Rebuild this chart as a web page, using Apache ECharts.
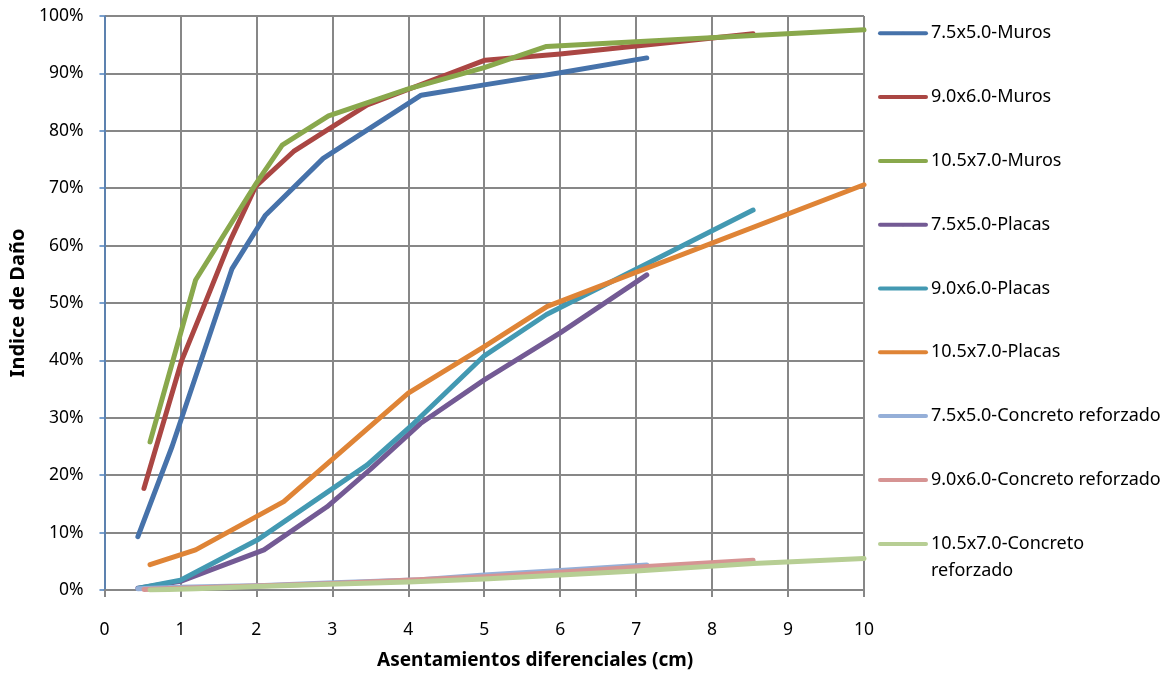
<!DOCTYPE html>
<html>
<head>
<meta charset="utf-8">
<script src="https://cdn.jsdelivr.net/npm/echarts@6/dist/echarts.min.js"></script>
<style>
  html, body { margin: 0; padding: 0; background: #fff; }
  #chart { width: 1161px; height: 679px; }
</style>
</head>
<body>
<div id="chart"></div>
<script>
// ---- Data (x = asentamiento en cm, y = índice de daño en %) ----
const seriesNames = [
  '7.5x5.0-Muros', '9.0x6.0-Muros', '10.5x7.0-Muros',
  '7.5x5.0-Placas', '9.0x6.0-Placas', '10.5x7.0-Placas',
  '7.5x5.0-Concreto reforzado', '9.0x6.0-Concreto reforzado', '10.5x7.0-Concreto reforzado'
];
const xTicks = [0, 1, 2, 3, 4, 5, 6, 7, 8, 9, 10];
const yTicks = [0, 10, 20, 30, 40, 50, 60, 70, 80, 90, 100];
const xTitle = 'Asentamientos diferenciales (cm)';
const yTitle = 'Indice de Daño';

const murosA_x = [0.44, 0.89, 1.68, 2.12, 2.88, 4.17, 5.0, 6.0, 7.14];
const murosA_y = [9.3, 25.0, 56.0, 65.3, 75.2, 86.2, 88.0, 90.1, 92.7];
const murosB_x = [0.52, 1.02, 1.31, 1.66, 1.99, 2.49, 2.93, 3.46, 5.01, 6.0, 8.54];
const murosB_y = [17.7, 40.1, 49.5, 61.0, 70.3, 76.4, 80.1, 84.5, 92.3, 93.4, 96.9];
const murosC_x = [0.6, 1.2, 2.0, 2.34, 2.95, 4.0, 5.0, 5.82, 8.54, 10.0];
const murosC_y = [25.8, 54.0, 70.9, 77.5, 82.6, 87.3, 91.0, 94.7, 96.6, 97.6];

const placasA_x = [0.44, 1.0, 2.1, 2.93, 3.5, 4.16, 5.0, 6.0, 7.14];
const placasA_y = [0.3, 1.5, 7.0, 14.5, 21.0, 29.0, 36.6, 44.8, 54.9];
const placasB_x = [0.45, 1.0, 2.01, 3.46, 4.07, 5.0, 5.82, 8.54];
const placasB_y = [0.3, 1.7, 8.7, 21.8, 29.0, 40.8, 48.0, 66.2];
const placasC_x = [0.6, 1.2, 2.36, 4.0, 5.0, 5.83, 10.0];
const placasC_y = [4.4, 7.0, 15.4, 34.3, 42.4, 49.4, 70.6];

const concA_x = [0.44, 1.0, 2.1, 2.93, 4.16, 5.0, 6.0, 7.14];
const concA_y = [0.2, 0.5, 0.8, 1.2, 1.8, 2.6, 3.4, 4.35];
const concB_x = [0.52, 1.02, 1.99, 2.93, 3.46, 5.01, 6.0, 7.14, 8.54];
const concB_y = [0.1, 0.3, 0.7, 1.1, 1.4, 2.3, 3.1, 4.1, 5.2];
const concC_x = [0.6, 1.2, 2.0, 2.95, 4.0, 5.0, 5.82, 7.0, 8.54, 10.0];
const concC_y = [0.0, 0.2, 0.6, 1.0, 1.4, 1.9, 2.5, 3.3, 4.6, 5.5];

const colors = ['#4672AA', '#AA4643', '#89A84C', '#735A94', '#4399B2', '#DF8436', '#95AFD8', '#D69493', '#B7CE94'];

const allX = [murosA_x, murosB_x, murosC_x, placasA_x, placasB_x, placasC_x, concA_x, concB_x, concC_x];
const allY = [murosA_y, murosB_y, murosC_y, placasA_y, placasB_y, placasC_y, concA_y, concB_y, concC_y];

const FONT = "'Noto Sans', sans-serif";

const series = seriesNames.map((name, i) => ({
  name: name,
  type: 'line',
  data: allX[i].map((x, j) => [x, allY[i][j]]),
  symbol: 'none',
  showSymbol: false,
  color: colors[i],
  lineStyle: { width: 5, color: colors[i], cap: 'round', join: 'round' },
  animation: false
}));

const chart = echarts.init(document.getElementById('chart'), null, { renderer: 'canvas' });
chart.setOption({
  animation: false,
  backgroundColor: '#ffffff',
  title: {
    text: xTitle, left: 377, top: 651, padding: 0,
    textStyle: { fontFamily: FONT, fontSize: 19, fontWeight: 'bold', color: '#000' }
  },
  grid: { left: 104, top: 16, width: 760, height: 574, containLabel: false },
  xAxis: {
    type: 'value', min: xTicks[0], max: xTicks[xTicks.length - 1], interval: 1,
    axisLine: { show: true, lineStyle: { color: '#878787', width: 2 } },
    axisTick: { show: true, length: 7, lineStyle: { color: '#878787', width: 2 } },
    axisLabel: { fontFamily: FONT, fontSize: 17.5, color: '#000', margin: 31 },
    splitLine: { show: true, lineStyle: { color: '#878787', width: 2 } }
  },
  yAxis: {
    type: 'value', min: yTicks[0], max: yTicks[yTicks.length - 1], interval: 10,
    name: yTitle, nameLocation: 'middle', nameGap: 75, nameRotate: 90,
    nameTextStyle: { fontFamily: FONT, fontSize: 20, fontWeight: 'bold', color: '#000' },
    axisLine: { show: true, lineStyle: { color: '#4F81BD', width: 1.5 } },
    axisTick: { show: true, length: 5, lineStyle: { color: '#4F81BD', width: 1.5 } },
    axisLabel: { fontFamily: FONT, fontSize: 17.5, color: '#000', margin: 21, formatter: '{value}%' },
    splitLine: { show: true, lineStyle: { color: '#878787', width: 2 } }
  },
  legend: [
    {
      data: seriesNames.slice(0, 8),
      orient: 'vertical', left: 878, top: 21.3, padding: 0,
      itemWidth: 46, itemHeight: 4, itemGap: 39.8,
      lineStyle: { width: 4, cap: 'round' },
      textStyle: { fontFamily: FONT, fontSize: 18, color: '#000', lineHeight: 24 },
      selectedMode: false
    },
    {
      data: seriesNames.slice(8),
      orient: 'vertical', left: 878, top: 503.5, padding: 0,
      itemWidth: 46, itemHeight: 4,
      lineStyle: { width: 4, cap: 'round' },
      formatter: function (n) { return '\n' + n.replace(' reforzado', '\nreforzado'); },
      textStyle: { fontFamily: FONT, fontSize: 18, color: '#000', lineHeight: 27 },
      selectedMode: false
    }
  ],
  series: series
});
</script>
</body>
</html>
